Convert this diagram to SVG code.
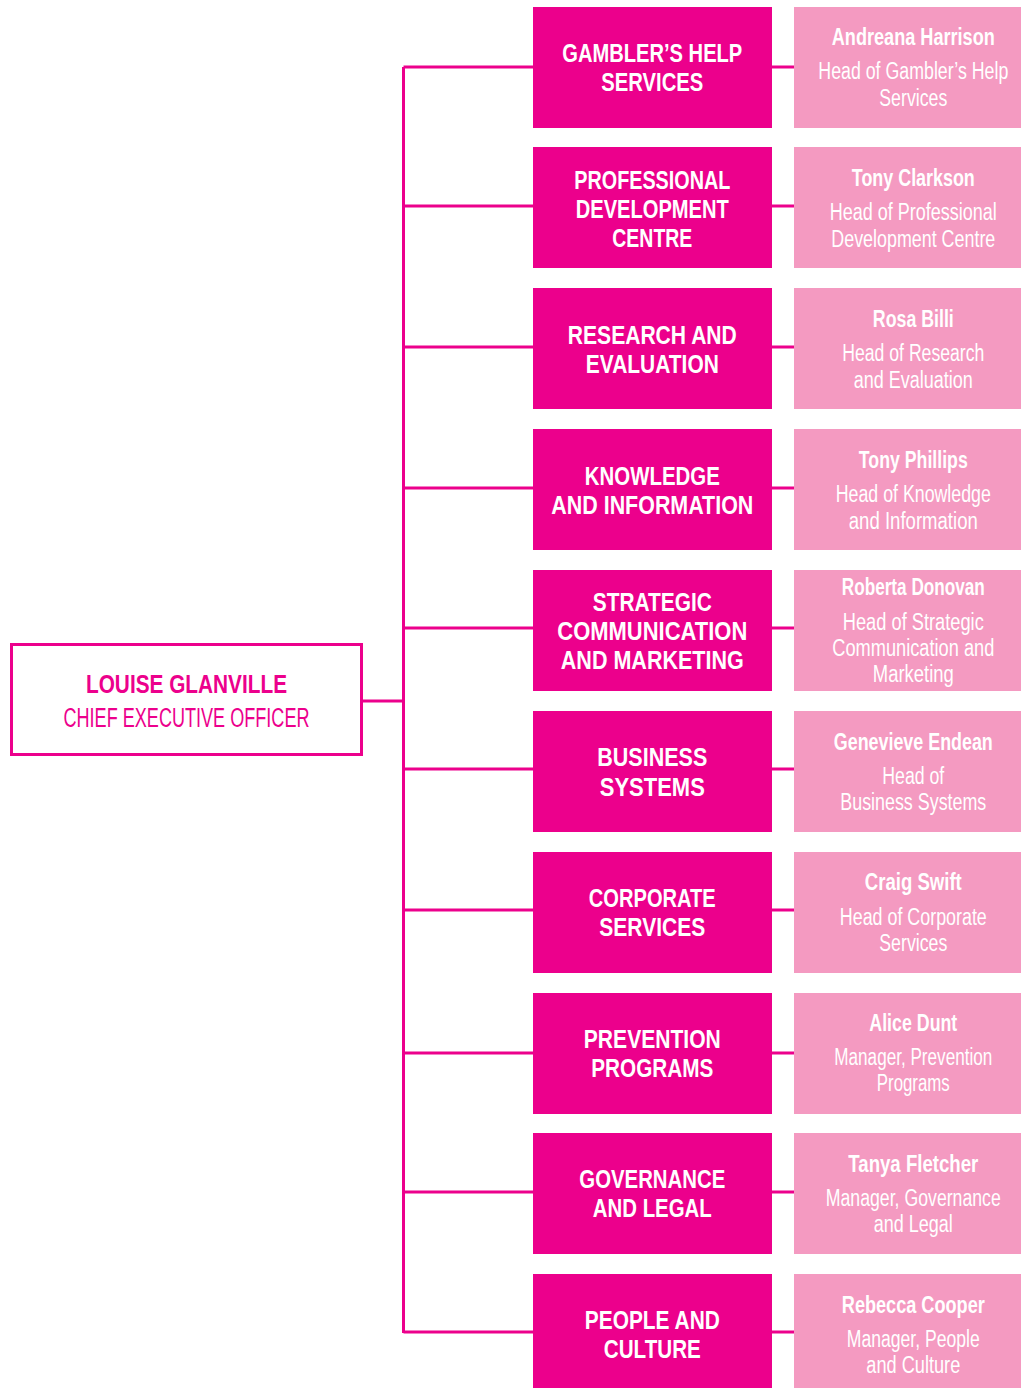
<svg xmlns="http://www.w3.org/2000/svg" width="1021" height="1388" viewBox="0 0 1021 1388">
<style>
.dept{fill:#EC008C}
.head{fill:#F49AC1}
text{font-family:"Liberation Sans",Arial,sans-serif;text-anchor:middle}
.dt{font-weight:bold;font-size:26px;fill:#fff}
.nm{font-weight:bold;font-size:23px;fill:#fff}
.rl{font-size:23px;fill:#fff}
.ln{stroke:#EC008C;stroke-width:3;fill:none}
</style>
<rect width="1021" height="1388" fill="#fff"/>
<g id="connectors">
<path class="ln" d="M363 701H403.5M403.5 67V1333"/>
<path class="ln" d="M403.5 67H533M403.5 206H533M403.5 347H533M403.5 488H533M403.5 628H533M403.5 769H533M403.5 910H533M403.5 1053H533M403.5 1192H533M403.5 1332H533"/>
<path class="ln" d="M772 67H794M772 206H794M772 347H794M772 488H794M772 628H794M772 769H794M772 910H794M772 1053H794M772 1192H794M772 1332H794"/>
</g>
<g id="ceo">
<rect x="11.5" y="644.5" width="350" height="110" fill="#fff" stroke="#EC008C" stroke-width="3"/>
<text x="186.5" y="693" font-weight="bold" font-size="26" fill="#EC008C" textLength="201" lengthAdjust="spacingAndGlyphs">LOUISE GLANVILLE</text>
<text x="186.5" y="727" font-size="27" fill="#EC008C" textLength="246" lengthAdjust="spacingAndGlyphs">CHIEF EXECUTIVE OFFICER</text>
</g>
<g id="d1"><rect class="dept" x="533" y="7" width="239" height="121"/><text class="dt" x="652.3" y="62" textLength="180" lengthAdjust="spacingAndGlyphs">GAMBLER’S HELP</text><text class="dt" x="652.3" y="91" textLength="102" lengthAdjust="spacingAndGlyphs">SERVICES</text></g>
<g id="h1"><rect class="head" x="794" y="7" width="240" height="121"/><text class="nm" x="913.3" y="45" textLength="163" lengthAdjust="spacingAndGlyphs">Andreana Harrison</text><text class="rl" x="913.3" y="79" textLength="190" lengthAdjust="spacingAndGlyphs">Head of Gambler’s Help</text><text class="rl" x="913.3" y="105.5" textLength="68" lengthAdjust="spacingAndGlyphs">Services</text></g>
<g id="d2"><rect class="dept" x="533" y="147" width="239" height="121"/><text class="dt" x="652.3" y="188.5" textLength="156" lengthAdjust="spacingAndGlyphs">PROFESSIONAL</text><text class="dt" x="652.3" y="218" textLength="153" lengthAdjust="spacingAndGlyphs">DEVELOPMENT</text><text class="dt" x="652.3" y="247" textLength="80" lengthAdjust="spacingAndGlyphs">CENTRE</text></g>
<g id="h2"><rect class="head" x="794" y="147" width="240" height="121"/><text class="nm" x="913.3" y="186" textLength="123" lengthAdjust="spacingAndGlyphs">Tony Clarkson</text><text class="rl" x="913.3" y="220" textLength="167" lengthAdjust="spacingAndGlyphs">Head of Professional</text><text class="rl" x="913.3" y="246.5" textLength="164" lengthAdjust="spacingAndGlyphs">Development Centre</text></g>
<g id="d3"><rect class="dept" x="533" y="288" width="239" height="121"/><text class="dt" x="652.3" y="343.5" textLength="169" lengthAdjust="spacingAndGlyphs">RESEARCH AND</text><text class="dt" x="652.3" y="372.5" textLength="133" lengthAdjust="spacingAndGlyphs">EVALUATION</text></g>
<g id="h3"><rect class="head" x="794" y="288" width="240" height="121"/><text class="nm" x="913.3" y="326.5" textLength="81" lengthAdjust="spacingAndGlyphs">Rosa Billi</text><text class="rl" x="913.3" y="360.5" textLength="142" lengthAdjust="spacingAndGlyphs">Head of Research</text><text class="rl" x="913.3" y="388" textLength="119" lengthAdjust="spacingAndGlyphs">and Evaluation</text></g>
<g id="d4"><rect class="dept" x="533" y="429" width="239" height="121"/><text class="dt" x="652.3" y="485" textLength="135" lengthAdjust="spacingAndGlyphs">KNOWLEDGE</text><text class="dt" x="652.3" y="514" textLength="202" lengthAdjust="spacingAndGlyphs">AND INFORMATION</text></g>
<g id="h4"><rect class="head" x="794" y="429" width="240" height="121"/><text class="nm" x="913.3" y="468" textLength="109" lengthAdjust="spacingAndGlyphs">Tony Phillips</text><text class="rl" x="913.3" y="501.5" textLength="155" lengthAdjust="spacingAndGlyphs">Head of Knowledge</text><text class="rl" x="913.3" y="529" textLength="129" lengthAdjust="spacingAndGlyphs">and Information</text></g>
<g id="d5"><rect class="dept" x="533" y="570" width="239" height="121"/><text class="dt" x="652.3" y="610.5" textLength="119" lengthAdjust="spacingAndGlyphs">STRATEGIC</text><text class="dt" x="652.3" y="640" textLength="190" lengthAdjust="spacingAndGlyphs">COMMUNICATION</text><text class="dt" x="652.3" y="669" textLength="183" lengthAdjust="spacingAndGlyphs">AND MARKETING</text></g>
<g id="h5"><rect class="head" x="794" y="570" width="240" height="121"/><text class="nm" x="913.3" y="595" textLength="143" lengthAdjust="spacingAndGlyphs">Roberta Donovan</text><text class="rl" x="913.3" y="630" textLength="141" lengthAdjust="spacingAndGlyphs">Head of Strategic</text><text class="rl" x="913.3" y="655.5" textLength="162" lengthAdjust="spacingAndGlyphs">Communication and</text><text class="rl" x="913.3" y="682" textLength="81" lengthAdjust="spacingAndGlyphs">Marketing</text></g>
<g id="d6"><rect class="dept" x="533" y="711" width="239" height="121"/><text class="dt" x="652.3" y="765.5" textLength="110" lengthAdjust="spacingAndGlyphs">BUSINESS</text><text class="dt" x="652.3" y="795.5" textLength="105" lengthAdjust="spacingAndGlyphs">SYSTEMS</text></g>
<g id="h6"><rect class="head" x="794" y="711" width="240" height="121"/><text class="nm" x="913.3" y="750" textLength="159" lengthAdjust="spacingAndGlyphs">Genevieve Endean</text><text class="rl" x="913.3" y="784" textLength="62" lengthAdjust="spacingAndGlyphs">Head of</text><text class="rl" x="913.3" y="810" textLength="146" lengthAdjust="spacingAndGlyphs">Business Systems</text></g>
<g id="d7"><rect class="dept" x="533" y="852" width="239" height="121"/><text class="dt" x="652.3" y="906.5" textLength="127" lengthAdjust="spacingAndGlyphs">CORPORATE</text><text class="dt" x="652.3" y="935.5" textLength="106" lengthAdjust="spacingAndGlyphs">SERVICES</text></g>
<g id="h7"><rect class="head" x="794" y="852" width="240" height="121"/><text class="nm" x="913.3" y="890" textLength="97" lengthAdjust="spacingAndGlyphs">Craig Swift</text><text class="rl" x="913.3" y="925" textLength="147" lengthAdjust="spacingAndGlyphs">Head of Corporate</text><text class="rl" x="913.3" y="950.5" textLength="68" lengthAdjust="spacingAndGlyphs">Services</text></g>
<g id="d8"><rect class="dept" x="533" y="993" width="239" height="121"/><text class="dt" x="652.3" y="1047.5" textLength="137" lengthAdjust="spacingAndGlyphs">PREVENTION</text><text class="dt" x="652.3" y="1076.5" textLength="122" lengthAdjust="spacingAndGlyphs">PROGRAMS</text></g>
<g id="h8"><rect class="head" x="794" y="993" width="240" height="121"/><text class="nm" x="913.3" y="1031" textLength="88" lengthAdjust="spacingAndGlyphs">Alice Dunt</text><text class="rl" x="913.3" y="1065" textLength="158" lengthAdjust="spacingAndGlyphs">Manager, Prevention</text><text class="rl" x="913.3" y="1091" textLength="73" lengthAdjust="spacingAndGlyphs">Programs</text></g>
<g id="d9"><rect class="dept" x="533" y="1133" width="239" height="121"/><text class="dt" x="652.3" y="1188" textLength="146" lengthAdjust="spacingAndGlyphs">GOVERNANCE</text><text class="dt" x="652.3" y="1217" textLength="119" lengthAdjust="spacingAndGlyphs">AND LEGAL</text></g>
<g id="h9"><rect class="head" x="794" y="1133" width="240" height="121"/><text class="nm" x="913.3" y="1171.5" textLength="130" lengthAdjust="spacingAndGlyphs">Tanya Fletcher</text><text class="rl" x="913.3" y="1205.5" textLength="175" lengthAdjust="spacingAndGlyphs">Manager, Governance</text><text class="rl" x="913.3" y="1232" textLength="79" lengthAdjust="spacingAndGlyphs">and Legal</text></g>
<g id="d10"><rect class="dept" x="533" y="1274" width="239" height="121"/><text class="dt" x="652.3" y="1329" textLength="135" lengthAdjust="spacingAndGlyphs">PEOPLE AND</text><text class="dt" x="652.3" y="1358" textLength="97" lengthAdjust="spacingAndGlyphs">CULTURE</text></g>
<g id="h10"><rect class="head" x="794" y="1274" width="240" height="121"/><text class="nm" x="913.3" y="1312.5" textLength="143" lengthAdjust="spacingAndGlyphs">Rebecca Cooper</text><text class="rl" x="913.3" y="1347" textLength="133" lengthAdjust="spacingAndGlyphs">Manager, People</text><text class="rl" x="913.3" y="1373" textLength="94" lengthAdjust="spacingAndGlyphs">and Culture</text></g>
</svg>
